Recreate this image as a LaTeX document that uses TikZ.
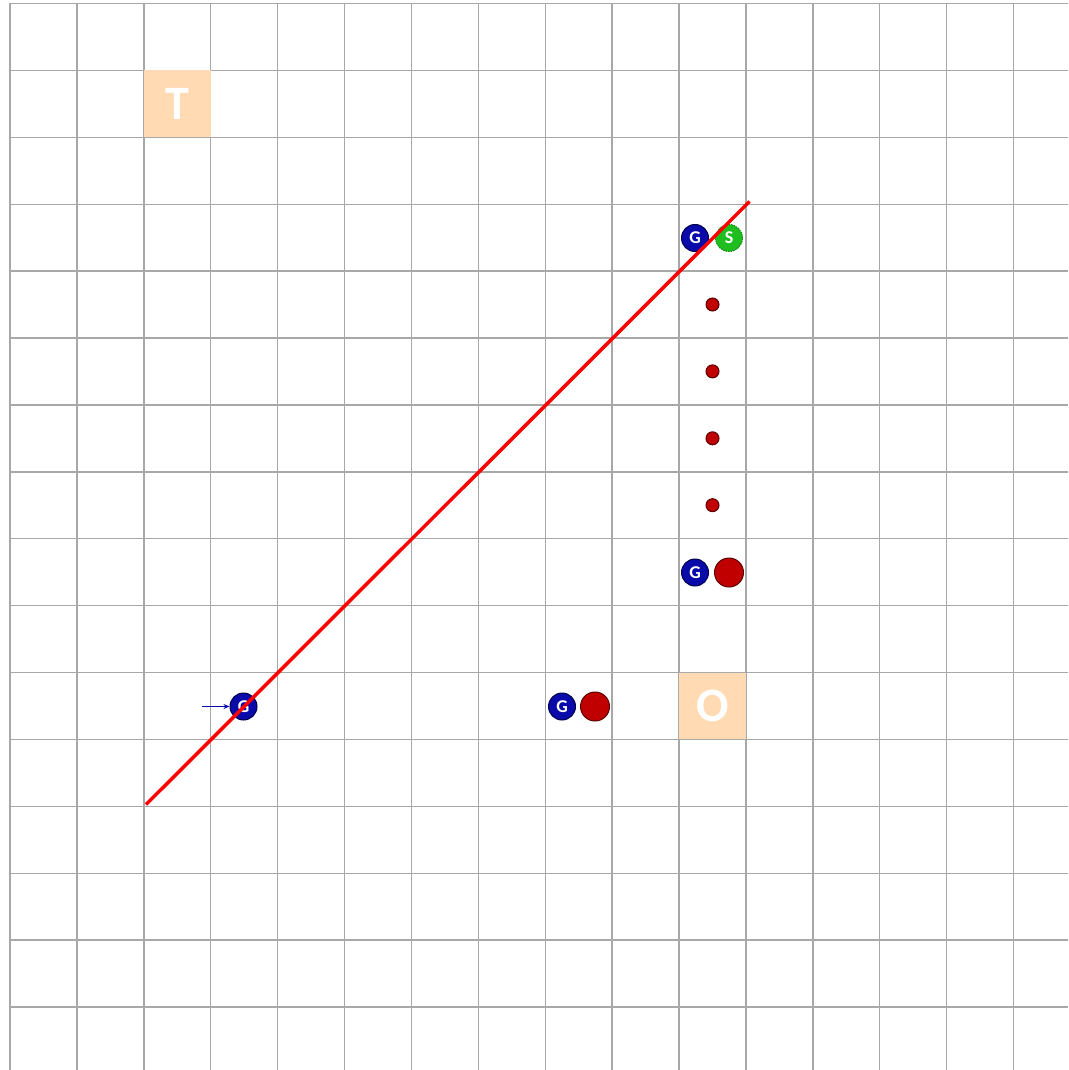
\documentclass[tikz,border=0pt]{standalone}
\usepackage{fontspec}
\setmainfont{Carlito}
\usetikzlibrary{arrows.meta}
\definecolor{gridgray}{HTML}{A8A8A8}
\definecolor{peach}{HTML}{FFDAB3}
\definecolor{gblue}{HTML}{0A0AAA}
\definecolor{gdark}{HTML}{00004A}
\definecolor{rfill}{HTML}{C00000}
\definecolor{rdark}{HTML}{5A0000}
\definecolor{sgreen}{HTML}{1EBE1E}
\definecolor{sdark}{HTML}{0E8A0E}
\begin{document}
\begin{tikzpicture}[x=1pt,y=-1pt,
  gridline/.style={draw=gridgray, line width=1.4pt},
  tile/.style={rectangle, fill=peach, minimum size=66.9pt, inner sep=0pt, text=white, font=\bfseries\fontsize{48}{48}\selectfont},
  gnode/.style={circle, fill=gblue, draw=gdark, line width=1pt, minimum size=27pt, inner sep=0pt, text=white, font=\bfseries\fontsize{18}{18}\selectfont},
  snode/.style={circle, fill=sgreen, draw=sdark, dashed, dash pattern=on 1.5pt off 1pt, line width=1pt, minimum size=27pt, inner sep=0pt, text=white, font=\bfseries\fontsize{18}{18}\selectfont},
  bigred/.style={circle, fill=rfill, draw=rdark, line width=1pt, minimum size=29pt, inner sep=0pt},
  smallred/.style={circle, fill=rfill, draw=rdark, line width=1pt, minimum size=13pt, inner sep=0pt},
  redline/.style={draw=red, line width=3.5pt},
  inarrow/.style={draw=gblue, line width=1pt, -{Stealth[length=6pt,width=5pt]}}
]
\useasboundingbox (0,0) rectangle (1068,1070);
\fill[white] (0,0) rectangle (1068,1070);
% grid
\foreach \k in {0,...,15} {
  \draw[gridline] ({10+66.9*\k},3.5) -- ({10+66.9*\k},1070);
  \draw[gridline] (10,{3.5+66.9*\k}) -- (1068,{3.5+66.9*\k});
}
% tiles
\node[tile] (T) at (177.25,103.85) {T};
\node[tile] (O) at (712.45,706) {O};
% row 3 pair
\node[gnode] (g1) at (695,238) {G};
\node[snode] (s1) at (729,238) {S};
% small red dots
\node[smallred] (d1) at (712.5,304.5) {};
\node[smallred] (d2) at (712.5,371.4) {};
\node[smallred] (d3) at (712.5,438.3) {};
\node[smallred] (d4) at (712.5,505.2) {};
% row 8 pair
\node[gnode] (g2) at (695,572.5) {G};
\node[bigred] (r2) at (729,572.5) {};
% row 10
\node[gnode] (g3) at (562,706.5) {G};
\node[bigred] (r3) at (595,706.5) {};
\node[gnode] (g4) at (243.5,706.5) {G};
\coordinate (a0) at (202,706.5);
\draw[inarrow] (a0) -- (g4.west);
% red line
\coordinate (L1) at (146,804.5);
\coordinate (L2) at (749.5,201.5);
\draw[redline] (L1) -- (L2);
\end{tikzpicture}
\end{document}
